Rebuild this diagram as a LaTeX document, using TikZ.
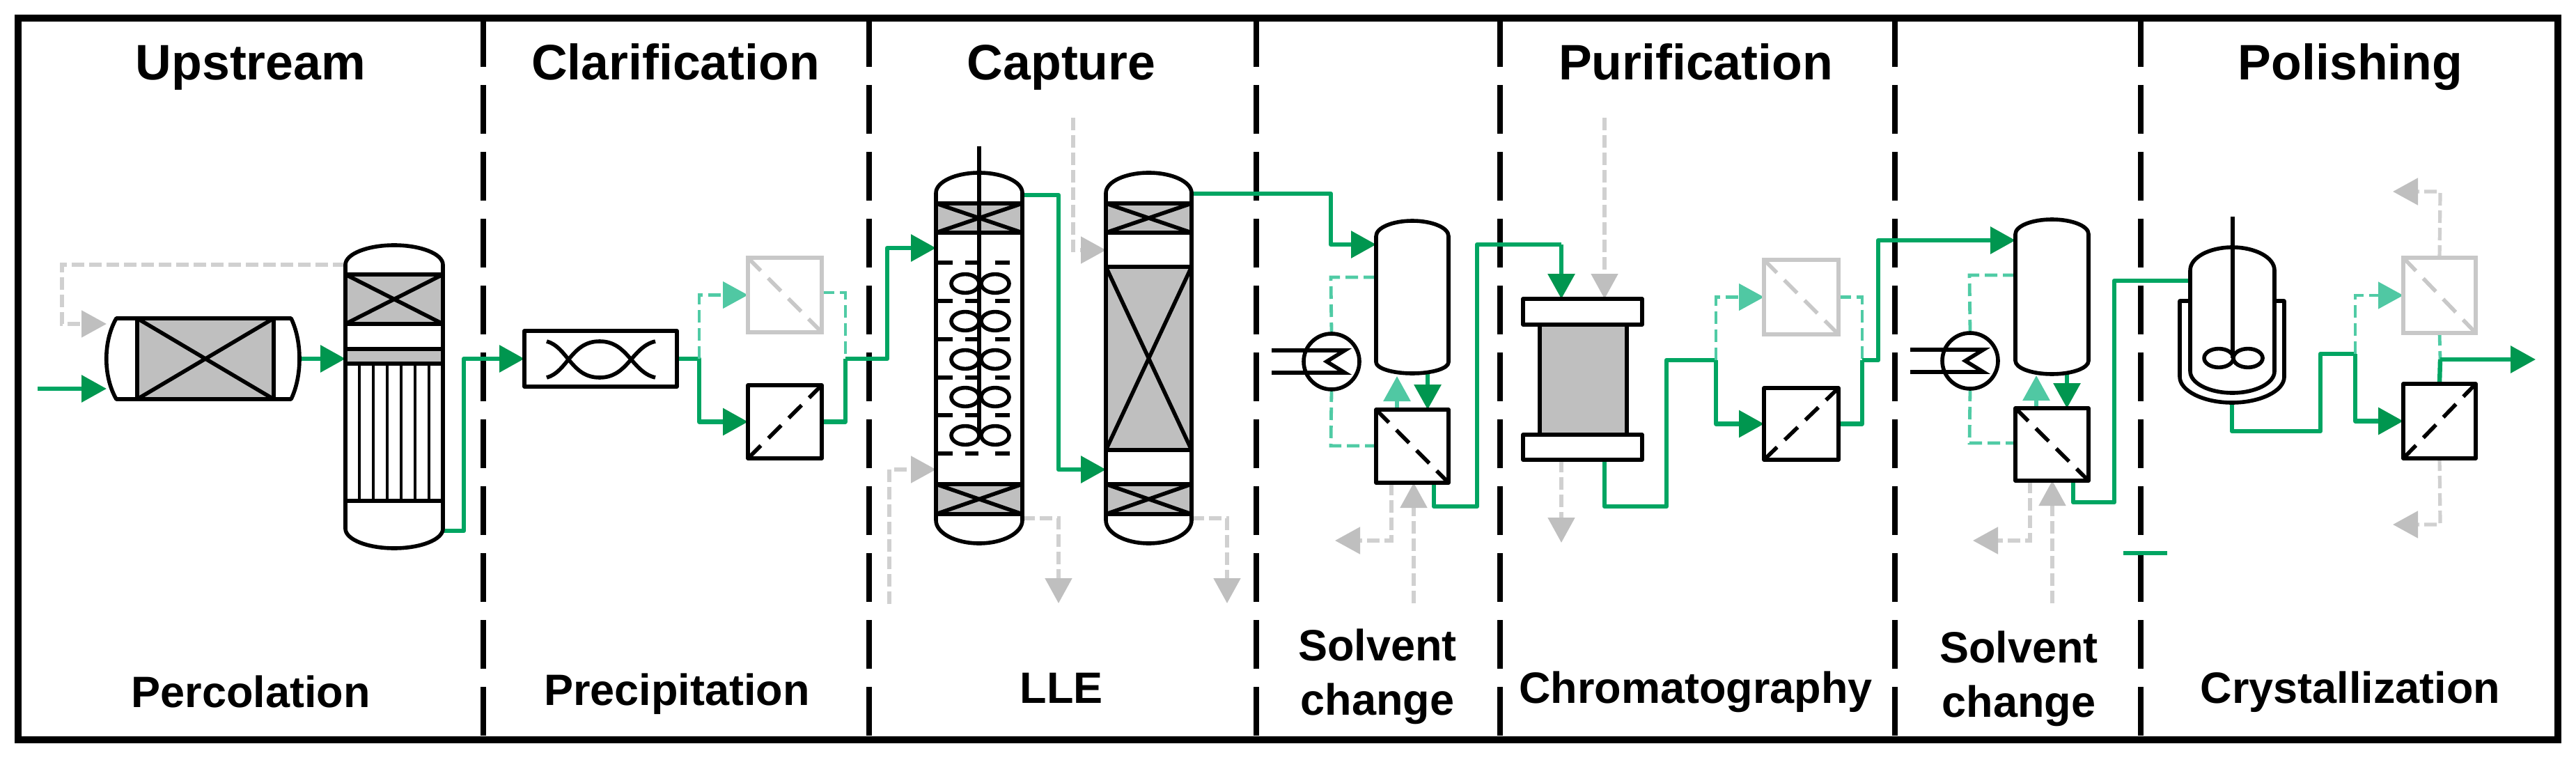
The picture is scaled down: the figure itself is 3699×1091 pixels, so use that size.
\documentclass[tikz,border=0pt]{standalone}
\usepackage{fontspec}
\setmainfont{Liberation Sans}
\usetikzlibrary{arrows.meta,fit,backgrounds,calc}
\definecolor{gLine}{HTML}{00A562}
\definecolor{gHead}{HTML}{00964F}
\definecolor{lLine}{HTML}{50CBA5}
\definecolor{lHead}{HTML}{50C8A3}
\definecolor{grLine}{HTML}{D0D0D0}
\definecolor{grHead}{HTML}{BFBFBF}
\definecolor{grBox}{HTML}{C8C8C8}
\definecolor{pack}{HTML}{BFBFBF}
\tikzset{
  eq/.style={draw=black,line width=2.8pt,line join=round},
  thin eq/.style={draw=black,line width=2.2pt},
  gpipe/.style={draw=gLine,line width=3.2pt,line join=round},
  gflow/.style={gpipe,-{Triangle[length=18pt,width=19pt,color=gHead,fill=gHead]}},
  lpipe/.style={draw=lLine,line width=2.4pt,dash pattern=on 9pt off 4pt},
  lflow/.style={lpipe,-{Triangle[length=18pt,width=19pt,color=lHead,fill=lHead]}},
  lsolid/.style={draw=lLine,line width=3pt,-{Triangle[length=18pt,width=19pt,color=lHead,fill=lHead]}},
  gypipe/.style={draw=grLine,line width=2.6pt,dash pattern=on 9pt off 3.5pt},
  gyflow/.style={gypipe,-{Triangle[length=18pt,width=19pt,color=grHead,fill=grHead]}},
  divider/.style={draw=black,line width=4pt,dash pattern=on 35pt off 13pt},
  frame/.style={draw=black,line width=5pt,line join=miter},
  membrane/.style={eq,fill=white},
  ghostmembrane/.style={draw=grBox,line width=2.8pt,fill=white},
  diag/.style={black,line width=2.8pt,dash pattern=on 13pt off 7.6pt},
  ghostdiag/.style={grBox,line width=2.8pt,dash pattern=on 13pt off 7.6pt},
  head/.style={font=\bfseries\fontsize{35.8pt}{36pt}\selectfont,anchor=base,inner sep=0pt},
  sub/.style={font=\bfseries\fontsize{31.5pt}{32pt}\selectfont,anchor=base,inner sep=0pt},
}
% named bounding box from two corners
\newcommand\unitbox[6]{%
  \path (#2,#3) coordinate (#1-a) (#4,#5) coordinate (#1-b);
  \node[fit=(#1-a)(#1-b),inner sep=0pt,outer sep=0pt,#6] (#1) {};}
% vertical vessel with dished ends
\newcommand\vesselv[7]{%
  \unitbox{#1}{#2}{#4}{#3}{#7}{}
  \pgfmathsetmacro\xm{(#2+#3)/2}
  \pgfmathsetmacro\kx{0.55*(#3-#2)/2}
  \pgfmathsetmacro\xl{\xm-\kx}
  \pgfmathsetmacro\xr{\xm+\kx}
  \pgfmathsetmacro\yt{#5-0.55*(#5-#4)}
  \pgfmathsetmacro\yb{#6+0.55*(#7-#6)}
  \draw[eq,fill=white] (#2,#5) .. controls (#2,\yt) and (\xl,#4) .. (\xm,#4)
    .. controls (\xr,#4) and (#3,\yt) .. (#3,#5) -- (#3,#6)
    .. controls (#3,\yb) and (\xr,#7) .. (\xm,#7)
    .. controls (\xl,#7) and (#2,\yb) .. (#2,#6) -- cycle;}
% packed section with a cross
\newcommand\packbox[4]{%
  \draw[eq,fill=pack] (#1,#2) rectangle (#3,#4);
  \draw[eq] (#1,#2) -- (#3,#4) (#1,#4) -- (#3,#2);}
\newcommand\exch[3]{%
  \node[circle,eq,minimum size=40pt,inner sep=0pt,outer sep=0pt] (#1) at (#2,#3) {};
  \draw[eq,line join=miter] ({#2-86},{#3-16}) -- ({#2+19},{#3-16}) -- ({#2-7},#3) -- ({#2+19},{#3+16}) -- ({#2-86},{#3+16});}
\begin{document}
\begin{tikzpicture}[x=0.5pt,y=-0.5pt]
\useasboundingbox (0,0) rectangle (3699,1091);
% ---------- equipment
% percolator
\unitbox{perc}{153}{457}{430}{573}{}
\draw[eq,fill=white] (167,457) -- (418,457) .. controls (434,490) and (434,540) .. (418,573)
  -- (167,573) .. controls (148,540) and (148,490) .. (167,457) -- cycle;
\packbox{197}{457}{393}{573}
% tubular column
\vesselv{col1}{496}{636}{352}{380}{759}{787}
\packbox{496}{394}{636}{465}
\draw[eq,fill=pack] (496,501) rectangle (636,522);
\foreach \x in {516,536,556,576,596,616} \draw[thin eq] (\x,522) -- (\x,719);
\draw[eq] (496,719) -- (636,719);
% static mixer
\unitbox{mix}{753}{475}{972}{555}{eq,fill=white}
\draw[black,line width=2.8pt] (785,490) .. controls (815,498) and (820,542) .. (861,542)
  .. controls (902,542) and (907,498) .. (941,490);
\draw[black,line width=2.8pt] (785,542) .. controls (815,534) and (820,490) .. (861,490)
  .. controls (902,490) and (907,534) .. (941,542);
% clarification membranes
\unitbox{m1up}{1074}{370}{1180}{477}{ghostmembrane}
\draw[ghostdiag] (m1up.north west) -- (m1up.south east);
\unitbox{m1lo}{1074}{553}{1180}{658}{membrane}
\draw[diag] (m1lo.south west) -- (m1lo.north east);
% LLE column
\vesselv{lle}{1344}{1468}{248}{277}{747}{780}
\packbox{1344}{292}{1468}{334}
\packbox{1344}{695}{1468}{738}
\foreach \y in {377,432,487,542,596,651}
  \draw[eq] (1347,\y) -- (1368,\y) (1386,\y) -- (1405,\y) (1429,\y) -- (1450,\y);
\draw[eq] (1406,210) -- (1406,623);
\foreach \y in {407,461,516,570,625}{
  \draw[eq] (1386,\y) ellipse [x radius=10pt,y radius=6.7pt];
  \draw[eq] (1429,\y) ellipse [x radius=10pt,y radius=6.7pt];}
% packed column
\vesselv{col2}{1588}{1711}{248}{277}{747}{780}
\packbox{1588}{292}{1711}{334}
\packbox{1588}{383}{1711}{646}
\packbox{1588}{695}{1711}{738}
% solvent change 1
\vesselv{tank1}{1976}{2080}{317}{339}{520}{536}
\unitbox{m2}{1976}{588}{2080}{693}{membrane}
\draw[diag] (m2.north west) -- (m2.south east);
\exch{hx1}{1912}{519}
% chromatography
\unitbox{chbody}{2211}{466}{2336}{624}{eq,fill=pack}
\unitbox{chtop}{2187}{429}{2358}{466}{eq,fill=white}
\unitbox{chbot}{2187}{624}{2358}{660}{eq,fill=white}
% purification membranes
\unitbox{m3up}{2533}{373}{2640}{480}{ghostmembrane}
\draw[ghostdiag] (m3up.north west) -- (m3up.south east);
\unitbox{m3lo}{2533}{557}{2640}{660}{membrane}
\draw[diag] (m3lo.south west) -- (m3lo.north east);
% solvent change 2
\vesselv{tank2}{2894}{2999}{315}{336}{518}{537}
\unitbox{m4}{2894}{586}{2999}{690}{membrane}
\draw[diag] (m4.north west) -- (m4.south east);
\exch{hx2}{2829}{518}
% crystallizer
\unitbox{jacket}{3130}{432}{3280}{578}{}
\draw[eq,fill=white] (3145,432) -- (3130,432) -- (3130,541)
  .. controls (3130,561) and (3164,578) .. (3205,578)
  .. controls (3246,578) and (3280,561) .. (3280,541) -- (3280,432) -- (3266,432);
\vesselv{reactor}{3145}{3266}{355}{388}{533}{564}
\draw[eq] (3206,311) -- (3206,514);
\draw[eq] (3186,514) ellipse [x radius=10.5pt,y radius=6.7pt];
\draw[eq] (3228,514) ellipse [x radius=10.5pt,y radius=6.7pt];
% polishing membranes
\unitbox{m5up}{3451}{370}{3555}{478}{ghostmembrane}
\draw[ghostdiag] (m5up.north west) -- (m5up.south east);
\unitbox{m5lo}{3451}{551}{3555}{658}{membrane}
\draw[diag] (m5lo.south west) -- (m5lo.north east);
% ---------- free ends and elbows
\coordinate (in0) at (54,558);
\coordinate (rc1) at (89,380);
\coordinate (rc2) at (89,465);
\coordinate (c1) at (666,762);
\coordinate (c2) at (666,515);
\coordinate (j1) at (1004,515);
\coordinate (j2) at (1214,515);
\coordinate (e1) at (1214,420);
\coordinate (c3) at (1274,356);
\coordinate (c3b) at (1274,515);
\coordinate (c4) at (1520,280);
\coordinate (c5) at (1520,674);
\coordinate (f1) at (1541,169);
\coordinate (f2) at (1541,359);
\coordinate (f3) at (1277,867);
\coordinate (f4) at (1277,674);
\coordinate (w1) at (1520,744);
\coordinate (w1e) at (1520,866);
\coordinate (w2) at (1762,744);
\coordinate (w2e) at (1762,866);
\coordinate (c6) at (1911,278);
\coordinate (c7) at (1911,351);
\coordinate (hx1up) at (1911,398);
\coordinate (hx1dn) at (1911,640);
\coordinate (s1) at (1998,776);
\coordinate (s1e) at (1917,776);
\coordinate (s2) at (2030,866);
\coordinate (c8) at (2059,727);
\coordinate (c9) at (2121,727);
\coordinate (c10) at (2121,351);
\coordinate (c11) at (2242,351);
\coordinate (ch1) at (2304,169);
\coordinate (ch2e) at (2242,779);
\coordinate (ch3) at (2304,727);
\coordinate (ch4) at (2393,727);
\coordinate (ch5) at (2393,517);
\coordinate (j3) at (2464,517);
\coordinate (j4) at (2674,517);
\coordinate (c12) at (2697,517);
\coordinate (c13) at (2697,345);
\coordinate (hx2up) at (2828,395);
\coordinate (hx2dn) at (2828,636);
\coordinate (c14) at (2977,721);
\coordinate (c15) at (3036,721);
\coordinate (c16) at (3036,403);
\coordinate (s3) at (2915,776);
\coordinate (s3e) at (2833,776);
\coordinate (s4) at (2947,866);
\coordinate (c17) at (3207,619);
\coordinate (c18) at (3332,619);
\coordinate (c19) at (3332,508);
\coordinate (j5) at (3382,508);
\coordinate (p1) at (3504,275);
\coordinate (p1e) at (3436,275);
\coordinate (j6) at (3504,516);
\coordinate (out) at (3641,516);
\coordinate (p2) at (3504,753);
\coordinate (p2e) at (3436,753);
\coordinate (barL) at (3049,794);
\coordinate (barR) at (3112,794);
% ---------- frame, dividers and connectors behind the equipment
\begin{scope}[on background layer]
\fill[white] (0,0) rectangle (3699,1091);
\foreach \x in {694,1248,1804,2154,2721,3074}
  \draw[divider] (\x,26) -- (\x,1062);
\draw[frame] (26,26) rectangle (3673,1062);
% upstream
\draw[gflow] (in0) -- (in0 -| perc.west);
\draw[gyflow] (rc1 -| col1.west) -- (rc1) -- (rc2) -- (rc2 -| perc.west);
\draw[gflow] (perc.east) -- (perc.east -| col1.west);
% clarification
\draw[gflow] (c1 -| col1.east) -- (c1) -- (c2) -- (mix.west);
\draw[gflow] (mix.east) -- (j1) |- (m1lo.west);
\draw[lflow] (j1) |- (m1up.west);
\draw[lpipe] (e1 -| m1up.east) -- (e1) -- (j2);
\draw[gpipe] (m1lo.east) -| (j2);
% capture
\draw[gflow] (j2) -- (c3b) -- (c3) -- (c3 -| lle.west);
\draw[gflow] (c4 -| lle.east) -- (c4) -- (c5) -- (c5 -| col2.west);
\draw[gyflow] (f1) -- (f2) -- (f2 -| col2.west);
\draw[gyflow] (f3) -- (f4) -- (f4 -| lle.west);
\draw[gyflow] (w1 -| lle.east) -- (w1) -- (w1e);
\draw[gyflow] (w2 -| col2.east) -- (w2) -- (w2e);
% solvent change 1
\draw[gflow] (c6 -| col2.east) -- (c6) -- (c7) -- (c7 -| tank1.west);
\draw[lpipe] (hx1up -| tank1.west) -- (hx1up) -- (hx1.north);
\draw[lpipe] (hx1.south) -- (hx1dn) -- (hx1dn -| m2.west);
\draw[gflow] (2050,536) -- (2050,588);
\draw[lsolid] (2006,588) -- (2006,540);
\draw[gyflow] (s1 |- m2.south) -- (s1) -- (s1e);
\draw[gyflow] (s2) -- (s2 |- m2.south);
\draw[gpipe] (c8 |- m2.south) -- (c8) -- (c9) -- (c10) -- (c11);
% chromatography
\draw[gflow] (c11) -- (c11 |- chtop.north);
\draw[gyflow] (ch1) -- (ch1 |- chtop.north);
\draw[gyflow] (ch2e |- chbot.south) -- (ch2e);
\draw[gpipe] (ch3 |- chbot.south) -- (ch3) -- (ch4) -- (ch5) -- (j3);
\draw[gflow] (j3) |- (m3lo.west);
\draw[lflow] (j3) |- (m3up.west);
\draw[lpipe] (m3up.east) -| (j4);
\draw[gpipe] (m3lo.east) -| (j4);
% solvent change 2
\draw[gflow] (j4) -- (c12) -- (c13) -- (c13 -| tank2.west);
\draw[lpipe] (hx2up -| tank2.west) -- (hx2up) -- (hx2.north);
\draw[lpipe] (hx2.south) -- (hx2dn) -- (hx2dn -| m4.west);
\draw[gflow] (2968,537) -- (2968,586);
\draw[lsolid] (2924,586) -- (2924,539);
\draw[gyflow] (s3 |- m4.south) -- (s3) -- (s3e);
\draw[gyflow] (s4) -- (s4 |- m4.south);
\draw[gpipe] (c14 |- m4.south) -- (c14) -- (c15) -- (c16) -- (c16 -| reactor.west);
\draw[gpipe,line width=2.6pt] (barL) -- (barR);
% polishing
\draw[gpipe] (jacket.south) -- (jacket.south |- c17) -- (c18) -- (c19) -- (j5);
\draw[gflow] (j5) |- (m5lo.west);
\draw[lflow] (j5) |- (m5up.west);
\draw[gyflow] (m5up.north) -- (p1) -- (p1e);
\draw[lpipe] (m5up.south) -- (j6);
\draw[gpipe] (m5lo.north) -- (j6);
\draw[gflow] (j6) -- (out);
\draw[gyflow] (m5lo.south) -- (p2) -- (p2e);
\end{scope}
% ---------- labels
\node[head] (t1) at (360,115) {Upstream};
\node[head] (t2) at (970,115) {Clarification};
\node[head] (t3) at (1524,115) {Capture};
\node[head] (t4) at (2435,115) {Purification};
\node[head] (t5) at (3375,115) {Polishing};
\node[sub] (b1) at (360,1015) {Percolation};
\node[sub] (b2) at (972,1012) {Precipitation};
\node[sub] (b3) at (1524,1009) {LLE};
\node[sub] (b4a) at (1978,948) {Solvent};
\node[sub] (b4b) at (1978,1026) {change};
\node[sub] (b5) at (2435,1009) {Chromatography};
\node[sub] (b6a) at (2899,951) {Solvent};
\node[sub] (b6b) at (2899,1029) {change};
\node[sub] (b7) at (3375,1009) {Crystallization};
\end{tikzpicture}
\end{document}
